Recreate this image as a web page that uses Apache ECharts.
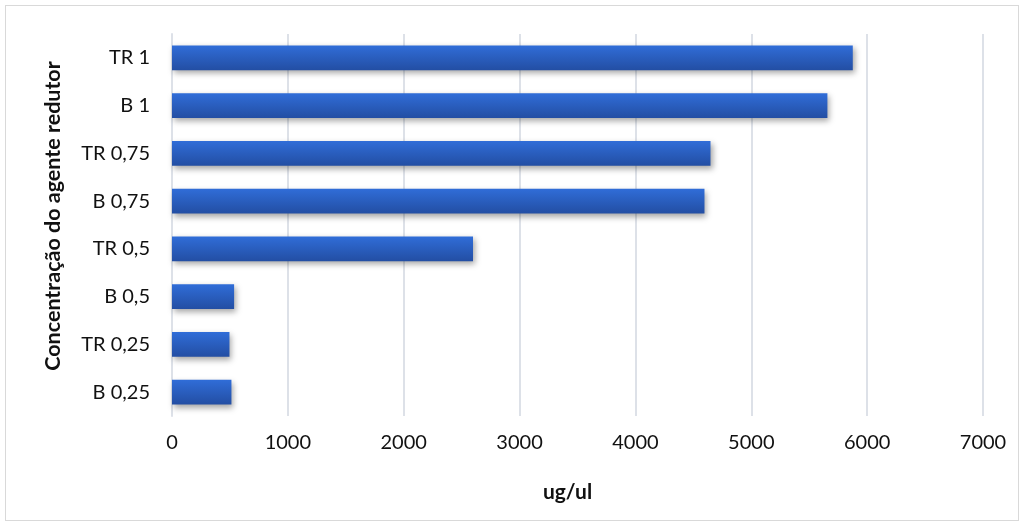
<!DOCTYPE html>
<html>
<head>
<meta charset="utf-8">
<script src="https://cdn.jsdelivr.net/npm/echarts@6/dist/echarts.min.js"></script>
<style>
  html, body { margin: 0; padding: 0; background: #fff; }
  #wrap { position: absolute; left: 5px; top: 5px; width: 1014px; height: 516px; border: 1px solid #d9d9d9; box-sizing: border-box; }
  #chart { position: absolute; left: 0; top: 0; width: 1025px; height: 527px; }
</style>
</head>
<body>
<div id="wrap"></div>
<div id="chart"></div>
<script>
// Concentration samples, listed bottom to top on the category axis
const categories = ['B 0,25', 'TR 0,25', 'B 0,5', 'TR 0,5', 'B 0,75', 'TR 0,75', 'B 1', 'TR 1'];
const values = [513, 496, 536, 2598, 4596, 4648, 5657, 5876];
const xTicks = { min: 0, max: 7000, interval: 1000 };

const font = 'Lato, "Open Sans", sans-serif';
const chart = echarts.init(document.getElementById('chart'));
chart.setOption({
  animation: false,
  grid: { left: 172, right: 42, top: 34, bottom: 111 },
  xAxis: {
    type: 'value',
    min: xTicks.min, max: xTicks.max, interval: xTicks.interval,
    name: 'ug/ul', nameLocation: 'middle', nameGap: 66,
    nameTextStyle: { fontFamily: font, fontWeight: 'bold', fontSize: 21, color: '#111', padding: [0, 20, 0, 0] },
    axisLabel: { fontFamily: font, fontSize: 20, color: '#111', margin: 17, formatter: v => String(v) },
    axisLine: { show: false }, axisTick: { show: false },
    splitLine: { lineStyle: { color: '#dde1e8', width: 2 } }
  },
  yAxis: {
    type: 'category', data: categories,
    name: 'Concentração do agente redutor', nameLocation: 'middle', nameGap: 108,
    nameTextStyle: { fontFamily: font, fontWeight: 'bold', fontSize: 21.5, color: '#111', padding: [0, 0, 0, 18] },
    axisLabel: { fontFamily: font, fontSize: 20, color: '#111', margin: 22 },
    axisLine: { show: true, lineStyle: { color: '#dde1e8', width: 2 } },
    axisTick: { show: false }
  },
  series: [{
    type: 'bar', data: values, barWidth: '52%',
    itemStyle: {
      color: new echarts.graphic.LinearGradient(0, 0, 0, 1, [
        { offset: 0, color: '#306dd8' },
        { offset: 1, color: '#234ea3' }
      ]),
      shadowColor: 'rgba(0,0,0,0.35)', shadowBlur: 6, shadowOffsetX: 2, shadowOffsetY: 3
    }
  }]
});
</script>
</body>
</html>
